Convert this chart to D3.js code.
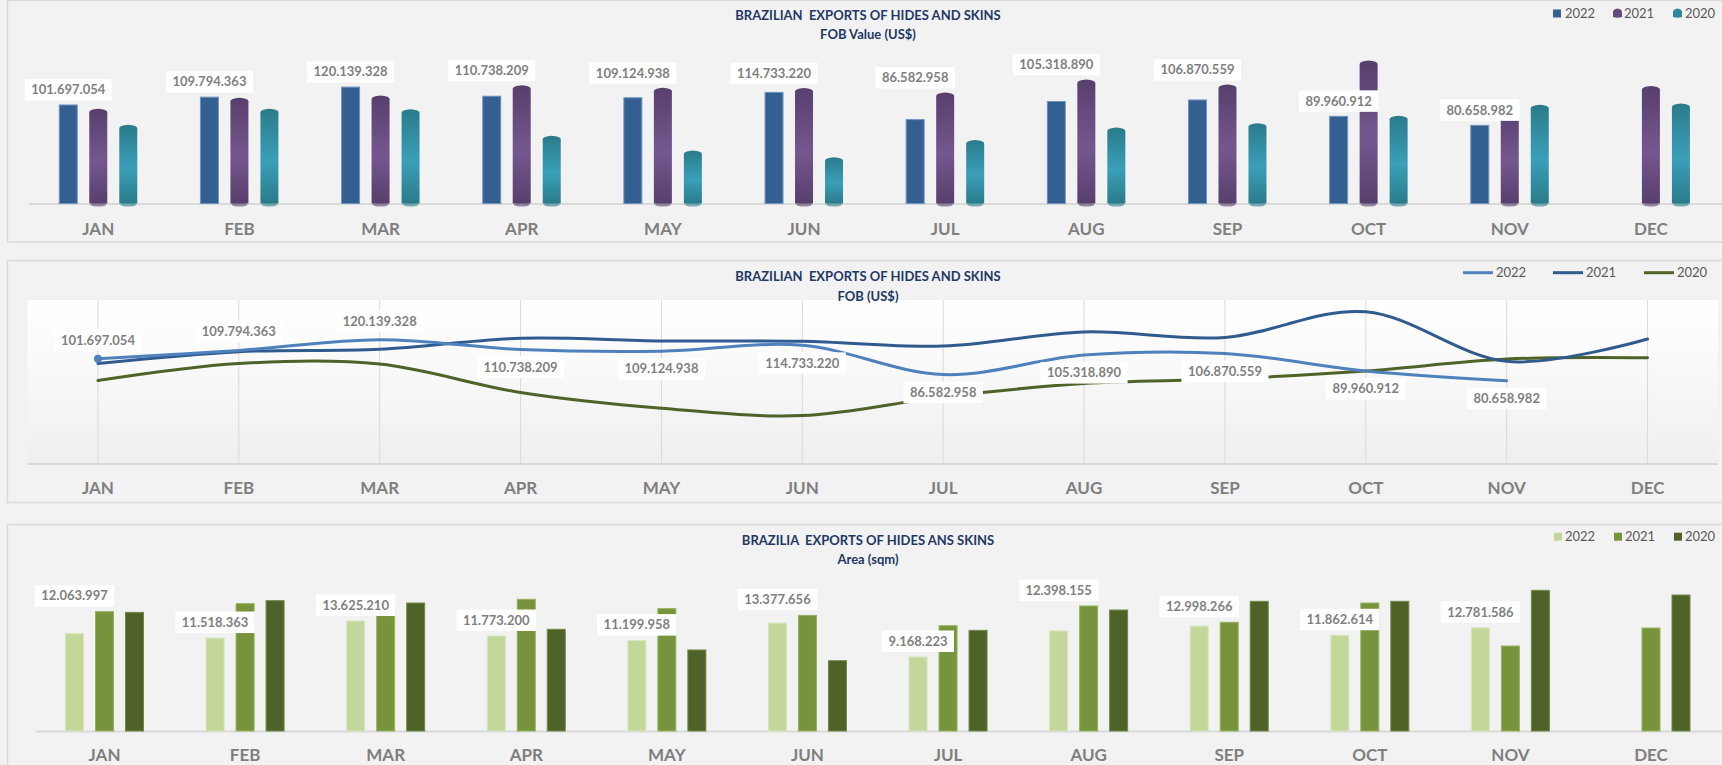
<!DOCTYPE html>
<html><head><meta charset="utf-8">
<script src="https://cdn.jsdelivr.net/npm/d3@7"></script>
<style>
html,body{margin:0;padding:0;background:#f2f2f2;}
svg{display:block;font-family:Lato,"Open Sans",sans-serif;}
text{white-space:pre;}
</style></head>
<body><svg id="c" width="1722" height="765"></svg>
<script>
// ---------- DATA ----------
const months = ['JAN','FEB','MAR','APR','MAY','JUN','JUL','AUG','SEP','OCT','NOV','DEC'];
const years = ['2022','2021','2020'];
const fob2022 = [101697054,109794363,120139328,110738209,109124938,114733220,86582958,105318890,106870559,89960912,80658982,null];
const fob2021 = [97200000,108600000,111000000,121500000,118900000,118600000,114000000,127600000,122300000,147000000,99300000,120800000];
const fob2020 = [80800000,97200000,96700000,69300000,54100000,47100000,65100000,78000000,82300000,90000000,101500000,102700000];
const area2022 = [12063997,11518363,13625210,11773200,11199958,13377656,9168223,12398155,12998266,11862614,12781586,null];
const area2021 = [14790000,15780000,15160000,16320000,15160000,14330000,13050000,15490000,13470000,15860000,10530000,12760000];
const area2020 = [14700000,16150000,15860000,12600000,10040000,8710000,12470000,14990000,16070000,16070000,17430000,16850000];
const titles1 = ['BRAZILIAN  EXPORTS OF HIDES AND SKINS','FOB Value (US$)'];
const titles2 = ['BRAZILIAN  EXPORTS OF HIDES AND SKINS','FOB (US$)'];
const titles3 = ['BRAZILIA  EXPORTS OF HIDES ANS SKINS','Area (sqm)'];

// ---------- LAYOUT (label placement hints) ----------
const fobLabelClear = [0,0,0,1,1,1,1,1,1,0,0,0];
const areaLabelClear = [1,0,0,0,0,1,0,1,1,0,0,0];
const lineLabelSide = ['above','above','above','below','below','below','below','below','below','below','below','below'];

const fmt = d3.formatLocale({decimal:',',thousands:'.',grouping:[3],currency:['','']}).format(',d');
const svg = d3.select('#c');
const defs = svg.append('defs');
const LABEL = '#7f7f7f', TITLE = '#1f3864', LEG = '#595959', GRID = '#d9d9d9';

function grad(id, c1, c2){
  const g = defs.append('linearGradient').attr('id',id).attr('x1',0).attr('y1',0).attr('x2',0).attr('y2',1);
  g.append('stop').attr('offset','0%').attr('stop-color',c1);
  g.append('stop').attr('offset','55%').attr('stop-color',c2);
  g.append('stop').attr('offset','100%').attr('stop-color',c1);
}
grad('g21','#573f6d','#75578f');
grad('g20','#2a7b8a','#3a9fb9');
const pg = defs.append('linearGradient').attr('id','plotbg').attr('x1',0).attr('y1',0).attr('x2',0).attr('y2',1);
pg.append('stop').attr('offset','0%').attr('stop-color','#ffffff');
pg.append('stop').attr('offset','35%').attr('stop-color','#fafafa');
pg.append('stop').attr('offset','100%').attr('stop-color','#efefef');

svg.append('rect').attr('width',1722).attr('height',765).attr('fill','#f2f2f2');
[[0.5,241.5],[260.5,242],[524.5,300]].forEach(([y,h])=>{
  svg.append('rect').attr('x',7.5).attr('y',y).attr('width',1760).attr('height',h)
    .attr('fill','#f2f2f2').attr('stroke',GRID).attr('stroke-width',1.5);
});

function titles(lines, y1, y2){
  svg.append('text').attr('x',868).attr('y',y1).attr('dy','0.35em').attr('text-anchor','middle')
    .attr('font-size',13).attr('font-weight',700).attr('fill',TITLE).text(lines[0]);
  svg.append('text').attr('x',868).attr('y',y2).attr('dy','0.35em').attr('text-anchor','middle')
    .attr('font-size',13).attr('font-weight',700).attr('fill',TITLE).text(lines[1]);
}
function catLabels(x, y){
  svg.append('g').selectAll('text').data(months).join('text')
    .attr('x',d=>x(d)+x.bandwidth()/2).attr('y',y).attr('dy','0.35em')
    .attr('text-anchor','middle').attr('font-size',17).attr('font-weight',700).attr('fill',LABEL).text(d=>d);
}
function labelBox(g, cx, anchorY, mode, txt){
  const h = 21.5;
  const y0 = mode==='bottom' ? anchorY - h : anchorY;
  const grp = g.append('g');
  const r = grp.append('rect').attr('fill','#ffffff');
  const t = grp.append('text').attr('x',cx).attr('y',y0+h/2).attr('dy','0.35em').attr('text-anchor','middle')
    .attr('font-size',13).attr('font-weight',700).attr('fill',LABEL).text(txt);
  const w = t.node().getComputedTextLength() + 13;
  r.attr('x',cx-w/2).attr('y',y0).attr('width',w).attr('height',h);
}
function legend(y, items){
  const g = svg.append('g');
  items.forEach(it=>{
    if(it.type==='sq'){
      g.append('rect').attr('x',it.mx).attr('y',y-4).attr('width',8).attr('height',8).attr('fill',it.color);
    } else if(it.type==='cyl'){
      g.append('path').attr('transform',`translate(${it.mx+4.5},${y})`)
        .attr('d','M-4.5,3.5 L-4.5,-1.5 Q-4.5,-4.5 0,-5 Q4.5,-4.5 4.5,-1.5 L4.5,3.5 Q0,5 -4.5,3.5 Z').attr('fill',it.color);
    } else {
      g.append('line').attr('x1',it.mx).attr('x2',it.mx+30).attr('y1',y).attr('y2',y)
        .attr('stroke',it.color).attr('stroke-width',3);
    }
    g.append('text').attr('x',it.tx).attr('y',y).attr('dy','0.35em').attr('font-size',13)
      .attr('fill',LEG).text(it.label);
  });
}

// ---------- PANEL 1 : FOB bars ----------
{
  const x = d3.scaleBand().domain(months).range([27.7,1721.5]);
  const xs = d3.scaleBand().domain(years).range([-45,45]).paddingInner(0.4).paddingOuter(0.2);
  const y = d3.scaleLinear().domain([0,160e6]).range([203.5,48.5]);
  const base = y(0);
  titles(titles1, 15.5, 34);
  svg.append('line').attr('x1',28.7).attr('x2',1722).attr('y1',base+0.5).attr('y2',base+0.5).attr('stroke',GRID).attr('stroke-width',2);
  const g = svg.append('g');
  const bw = xs.bandwidth();
  const cx = (m,s)=>x(m)+x.bandwidth()/2+xs(s)+bw/2;
  months.forEach((m,i)=>{
    if(fob2022[i]!=null){
      g.append('rect').attr('x',cx(m,'2022')-bw/2).attr('y',y(fob2022[i])).attr('width',bw)
        .attr('height',base-y(fob2022[i])).attr('fill','#335f91').attr('stroke','#6f93c2').attr('stroke-width',1);
    }
    [['2021',fob2021,'url(#g21)','#5a4270'],['2020',fob2020,'url(#g20)','#2b7e8d']].forEach(([s,arr,fill,dark])=>{
      const x0 = cx(m,s)-bw/2, yt = y(arr[i]);
      g.append('ellipse').attr('cx',cx(m,s)).attr('cy',base+1).attr('rx',bw/2-1).attr('ry',2).attr('fill',dark).attr('opacity',0.6);
      g.append('path').attr('d',`M${x0},${yt+3} Q${x0},${yt} ${x0+bw/2},${yt-0.5} Q${x0+bw},${yt} ${x0+bw},${yt+3} L${x0+bw},${base} L${x0},${base} Z`)
        .attr('fill',fill);
    });
  });
  const lg = svg.append('g');
  months.forEach((m,i)=>{
    if(fob2022[i]==null) return;
    const anchor = fobLabelClear[i] ? Math.max(fob2022[i],fob2021[i]) : fob2022[i];
    labelBox(lg, cx(m,'2022'), y(anchor)-4.5, 'bottom', fmt(fob2022[i]));
  });
  catLabels(x, 229);
  legend(13.5, [
    {type:'sq',mx:1553,tx:1565,color:'#335f91',label:'2022'},
    {type:'cyl',mx:1613,tx:1624,color:'#634a80',label:'2021'},
    {type:'cyl',mx:1673,tx:1685,color:'#31879a',label:'2020'}]);
}

// ---------- PANEL 2 : FOB lines ----------
{
  const x = d3.scaleBand().domain(months).range([27.5,1718]);
  const y = d3.scaleLinear().domain([0,160e6]).range([464.5,298.3]);
  const px = m=>x(m)+x.bandwidth()/2;
  svg.append('rect').attr('x',27.5).attr('y',300).attr('width',1690.5).attr('height',y(0)-300-1).attr('fill','url(#plotbg)');
  titles(titles2, 276, 296);
  svg.append('g').selectAll('line').data(months).join('line')
    .attr('x1',px).attr('x2',px).attr('y1',300).attr('y2',y(0)).attr('stroke',GRID).attr('stroke-width',1);
  svg.append('line').attr('x1',27.5).attr('x2',1718).attr('y1',y(0)-0.5).attr('y2',y(0)-0.5).attr('stroke',GRID).attr('stroke-width',2);
  const line = d3.line().defined(d=>d.v!=null).x(d=>px(d.m)).y(d=>y(d.v)).curve(d3.curveCardinal.tension(0));
  const ser = [[fob2020,'#4f6228'],[fob2021,'#2f5b8f'],[fob2022,'#4f81bd']];
  ser.forEach(([arr,c])=>{
    svg.append('path').datum(months.map((m,i)=>({m,v:arr[i]})).filter(d=>d.v!=null))
      .attr('d',line).attr('fill','none').attr('stroke',c).attr('stroke-width',3).attr('stroke-linecap','round');
  });
  svg.append('circle').attr('cx',px('JAN')).attr('cy',y(fob2022[0])).attr('r',4).attr('fill','#4f81bd');
  const lg = svg.append('g');
  months.forEach((m,i)=>{
    if(fob2022[i]==null) return;
    const py = y(fob2022[i]);
    if(lineLabelSide[i]==='above') labelBox(lg, px(m), py-8, 'bottom', fmt(fob2022[i]));
    else labelBox(lg, px(m), py+7, 'top', fmt(fob2022[i]));
  });
  catLabels(x, 488.3);
  legend(272.7, [
    {type:'ln',mx:1463,tx:1496,color:'#4f81bd',label:'2022'},
    {type:'ln',mx:1553,tx:1586,color:'#2f5b8f',label:'2021'},
    {type:'ln',mx:1644,tx:1677,color:'#4f6228',label:'2020'}]);
}

// ---------- PANEL 3 : Area bars ----------
{
  const x = d3.scaleBand().domain(months).range([34.2,1721.3]);
  const xs = d3.scaleBand().domain(years).range([-45,45]).paddingInner(0.4).paddingOuter(0.2);
  const y = d3.scaleLinear().domain([0,20e6]).range([731,569.6]);
  const base = y(0);
  titles(titles3, 540, 559);
  svg.append('line').attr('x1',35.6).attr('x2',1722).attr('y1',base+0.5).attr('y2',base+0.5).attr('stroke',GRID).attr('stroke-width',2);
  const bw = xs.bandwidth();
  const cx = (m,s)=>x(m)+x.bandwidth()/2+xs(s)+bw/2;
  const ser = [['2022',area2022,'#c4d79b','#d8e5bf'],['2021',area2021,'#77933c','#97b25e'],['2020',area2020,'#4f6228','#71884a']];
  const g = svg.append('g');
  months.forEach((m,i)=>{
    ser.forEach(([s,arr,c,sc])=>{
      if(arr[i]==null) return;
      g.append('rect').attr('x',cx(m,s)-bw/2).attr('y',y(arr[i])).attr('width',bw).attr('height',base-y(arr[i]))
        .attr('fill',c).attr('stroke',sc).attr('stroke-width',1);
    });
  });
  const lg = svg.append('g');
  months.forEach((m,i)=>{
    if(area2022[i]==null) return;
    const anchor = areaLabelClear[i] ? Math.max(area2022[i],area2021[i]) : area2022[i];
    labelBox(lg, cx(m,'2022'), y(anchor)-5, 'bottom', fmt(area2022[i]));
  });
  catLabels(x, 755);
  legend(536.7, [
    {type:'sq',mx:1554,tx:1565,color:'#c4d79b',label:'2022'},
    {type:'sq',mx:1614,tx:1625,color:'#77933c',label:'2021'},
    {type:'sq',mx:1674,tx:1685,color:'#4f6228',label:'2020'}]);
}
</script></body></html>
